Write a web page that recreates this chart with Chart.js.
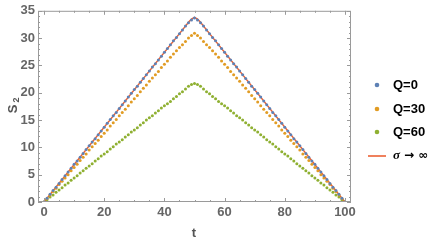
<!DOCTYPE html>
<html>
<head>
<meta charset="utf-8">
<script src="https://cdn.jsdelivr.net/npm/chart.js@4.4.1/dist/chart.umd.min.js"></script>
<style>
  html, body { margin: 0; padding: 0; background: #fff; }
  canvas { display: block; }
</style>
</head>
<body>
<canvas id="chart" width="436" height="243"></canvas>
<script>
// time axis, one sample per unit
const tValues = [
  0,1,2,3,4,5,6,7,8,9,10,11,12,13,14,15,16,17,18,19,20,21,22,23,24,25,26,27,28,29,30,
  31,32,33,34,35,36,37,38,39,40,41,42,43,44,45,46,47,48,49,50,51,52,53,54,55,56,57,58,59,60,
  61,62,63,64,65,66,67,68,69,70,71,72,73,74,75,76,77,78,79,80,81,82,83,84,85,86,87,88,89,90,
  91,92,93,94,95,96,97,98,99,100
];

// Q=0
const q0Values = [
  0,0.7,1.4,2.1,2.7,3.4,4.1,4.8,5.5,6.2,6.9,7.5,8.2,8.9,9.6,10.3,11.0,11.6,12.3,13.0,13.7,
  14.4,15.1,15.8,16.4,17.1,17.8,18.5,19.2,19.9,20.6,21.2,21.9,22.6,23.3,24.0,24.7,25.3,26.0,
  26.7,27.4,28.1,28.8,29.5,30.1,30.8,31.5,32.2,32.8,33.3,33.7,
  33.3,32.8,32.2,31.5,30.8,30.1,29.5,28.8,28.1,27.4,26.7,26.0,25.3,24.7,24.0,23.3,22.6,21.9,
  21.2,20.6,19.9,19.2,18.5,17.8,17.1,16.4,15.8,15.1,14.4,13.7,13.0,12.3,11.6,11.0,10.3,9.6,
  8.9,8.2,7.5,6.9,6.2,5.5,4.8,4.1,3.4,2.7,2.1,1.4,0.7,0
];

// Q=30
const q30Values = [
  0,0.6,1.3,1.9,2.5,3.2,3.8,4.4,5.0,5.7,6.3,6.9,7.6,8.2,8.8,9.5,10.1,10.7,11.3,12.0,12.6,
  13.2,13.9,14.5,15.1,15.8,16.4,17.0,17.6,18.3,18.9,19.5,20.2,20.8,21.4,22.1,22.7,23.3,23.9,
  24.6,25.2,25.8,26.5,27.1,27.7,28.3,28.8,29.4,30.0,30.5,30.9,
  30.5,30.0,29.4,28.8,28.3,27.7,27.1,26.5,25.8,25.2,24.6,23.9,23.3,22.7,22.1,21.4,20.8,20.2,
  19.5,18.9,18.3,17.6,17.0,16.4,15.8,15.1,14.5,13.9,13.2,12.6,12.0,11.3,10.7,10.1,9.5,8.8,
  8.2,7.6,6.9,6.3,5.7,5.0,4.4,3.8,3.2,2.5,1.9,1.3,0.6,0
];

// Q=60
const q60Values = [
  0,0.4,0.9,1.3,1.8,2.2,2.6,3.1,3.5,4.0,4.4,4.8,5.3,5.7,6.2,6.6,7.0,7.5,7.9,8.4,8.8,
  9.2,9.7,10.1,10.6,11.0,11.4,11.9,12.3,12.8,13.2,13.6,14.1,14.5,15.0,15.4,15.8,16.3,16.7,
  17.2,17.6,18.0,18.4,18.9,19.3,19.8,20.2,20.7,21.2,21.5,21.7,
  21.5,21.2,20.7,20.2,19.8,19.3,18.9,18.4,18.0,17.6,17.2,16.7,16.3,15.8,15.4,15.0,14.5,14.1,
  13.6,13.2,12.8,12.3,11.9,11.4,11.0,10.6,10.1,9.7,9.2,8.8,8.4,7.9,7.5,7.0,6.6,6.2,
  5.7,5.3,4.8,4.4,4.0,3.5,3.1,2.6,2.2,1.8,1.3,0.9,0.4,0
];

// sigma -> infinity limit, slightly rounded at the top
const limitT = [0, 47, 48, 49, 50, 51, 52, 53, 100];
const limitValues = [0, 32.2, 32.9, 33.5, 33.8, 33.5, 32.9, 32.2, 0];

const xTicks = [0, 20, 40, 60, 80, 100];
const yTicks = [0, 5, 10, 15, 20, 25, 30, 35];

const seriesNames = ["Q=0", "Q=30", "Q=60"];
const seriesColors = ["#5E81B5", "#E19C24", "#8FB032"];
const lineColor = "#EB6235";

const pts = (xs, ys) => xs.map((x, i) => ({ x: x, y: ys[i] }));

// frame with inward ticks on all four sides, axis titles and legend
const framePlugin = {
  id: "frame",
  afterDraw(chart) {
    const ctx = chart.ctx;
    const a = chart.chartArea;
    const xs = chart.scales.x;
    const ys = chart.scales.y;
    ctx.save();
    ctx.strokeStyle = "#9a9a9a";
    ctx.lineWidth = 1;
    ctx.strokeRect(a.left + 0.5, a.top + 0.5, a.right - a.left - 1, a.bottom - a.top - 1);

    ctx.beginPath();
    for (let v = 0; v <= 100; v += 5) {
      const px = Math.round(xs.getPixelForValue(v)) + 0.5;
      const len = v % 20 === 0 ? 4 : 2;
      ctx.moveTo(px, a.bottom);
      ctx.lineTo(px, a.bottom - len);
      ctx.moveTo(px, a.top);
      ctx.lineTo(px, a.top + len);
    }
    for (let v = 0; v <= 35; v += 1) {
      const py = Math.round(ys.getPixelForValue(v)) + 0.5;
      const len = v % 5 === 0 ? 4 : 2;
      ctx.moveTo(a.left, py);
      ctx.lineTo(a.left + len, py);
      ctx.moveTo(a.right, py);
      ctx.lineTo(a.right - len, py);
    }
    ctx.stroke();

    // axis titles
    ctx.fillStyle = "#555";
    ctx.font = "bold 13px 'Liberation Sans', Arial, sans-serif";
    ctx.textAlign = "center";
    ctx.textBaseline = "middle";
    ctx.fillText("t", 194, 233);
    ctx.save();
    ctx.translate(13, 106);
    ctx.rotate(-Math.PI / 2);
    ctx.fillText("S", -3, 0);
    ctx.font = "bold 9px 'Liberation Sans', Arial, sans-serif";
    ctx.fillText("2", 6, 4);
    ctx.restore();

    // legend
    ctx.textAlign = "left";
    const legendY = [85, 109, 132];
    seriesNames.forEach((name, i) => {
      ctx.beginPath();
      ctx.fillStyle = seriesColors[i];
      ctx.arc(377, legendY[i], 2.3, 0, Math.PI * 2);
      ctx.fill();
      ctx.fillStyle = "#000";
      ctx.font = "bold 13px 'Liberation Sans', Arial, sans-serif";
      ctx.fillText(name, 393, legendY[i]);
    });
    ctx.strokeStyle = lineColor;
    ctx.lineWidth = 1.6;
    ctx.beginPath();
    ctx.moveTo(368, 156);
    ctx.lineTo(386, 156);
    ctx.stroke();
    ctx.fillStyle = "#000";
    ctx.font = "bold italic 13px 'Liberation Serif', serif";
    ctx.fillText("\u03C3", 393, 156);
    ctx.font = "bold 12px 'DejaVu Sans', sans-serif";
    ctx.fillText("\u2192 \u221E", 404, 156);
    ctx.restore();
  },
};

const tickFont = { family: "'Liberation Sans', Arial, sans-serif", size: 13, weight: "bold" };

new Chart(document.getElementById("chart"), {
  type: "scatter",
  data: {
    datasets: [
      {
        label: seriesNames[0],
        data: pts(tValues, q0Values),
        backgroundColor: seriesColors[0],
        borderWidth: 0,
        pointRadius: 1.5,
      },
      {
        label: seriesNames[1],
        data: pts(tValues, q30Values),
        backgroundColor: seriesColors[1],
        borderWidth: 0,
        pointRadius: 1.5,
      },
      {
        label: seriesNames[2],
        data: pts(tValues, q60Values),
        backgroundColor: seriesColors[2],
        borderWidth: 0,
        pointRadius: 1.5,
      },
      {
        type: "line",
        label: "\u03C3 \u2192 \u221E",
        data: pts(limitT, limitValues),
        borderColor: lineColor,
        borderWidth: 1.5,
        pointRadius: 0,
        fill: false,
        tension: 0,
      },
    ],
  },
  options: {
    responsive: false,
    animation: false,
    layout: { padding: { top: 10, right: 85, left: 0, bottom: 0 } },
    plugins: {
      legend: { display: false },
      tooltip: { enabled: false },
    },
    scales: {
      x: {
        type: "linear",
        min: -2,
        max: 102,
        afterBuildTicks: (scale) => {
          scale.ticks = xTicks.map((v) => ({ value: v }));
        },
        afterFit: (scale) => {
          scale.height = 41;
        },
        grid: { display: false, drawTicks: false },
        border: { display: false },
        ticks: { color: "#666", font: tickFont, padding: 3, maxRotation: 0 },
      },
      y: {
        type: "linear",
        min: 0,
        max: 35,
        afterBuildTicks: (scale) => {
          scale.ticks = yTicks.map((v) => ({ value: v }));
        },
        afterFit: (scale) => {
          scale.width = 38;
        },
        grid: { display: false, drawTicks: false },
        border: { display: false },
        ticks: { color: "#666", font: tickFont, padding: 3 },
      },
    },
  },
  plugins: [framePlugin],
});
</script>
</body>
</html>
